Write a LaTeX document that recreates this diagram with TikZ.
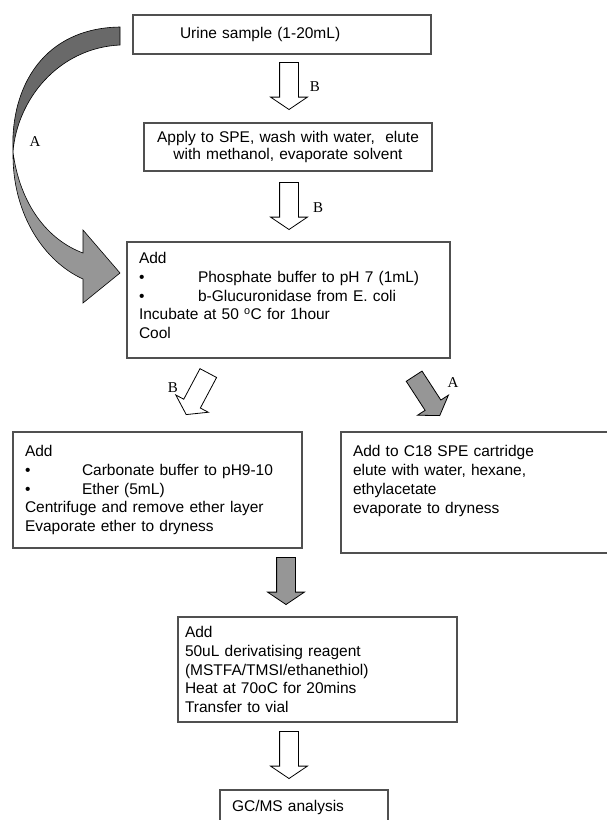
\documentclass[tikz,border=0pt]{standalone}
\usepackage{fontspec}
\setmainfont{Liberation Sans}
\newfontfamily\labelfont{Liberation Serif}
\usetikzlibrary{shapes.arrows}
\definecolor{boxline}{RGB}{80,80,80}
\definecolor{arrowgray}{RGB}{150,150,150}
\definecolor{arrowdark}{RGB}{105,105,105}
\newcommand{\bitem}[2]{\makebox[#1][l]{\textbullet}#2}
\tikzset{
  stepbox/.style={
    rectangle, draw=boxline, line width=1.2pt, fill=white,
    align=left, inner ysep=2pt, font=\fontsize{15.5}{18.8}\selectfont
  },
  hollowarrow/.style={
    single arrow, draw=black, line width=0.8pt, fill=white,
    inner sep=0pt, minimum height=47pt, anchor=tip,
    single arrow head extend=9pt, single arrow tip angle=112
  },
  grayarrow/.style={hollowarrow, fill=arrowgray},
  lbl/.style={font=\labelfont\fontsize{15}{15}\selectfont, inner sep=0pt}
}

\begin{document}
\begin{tikzpicture}[x=1pt, y=-1pt]
\path[use as bounding box] (0,0) rectangle (607,820);
\clip (0,0) rectangle (607,820);

% boxes
\node[stepbox, text width=204pt, inner xsep=47pt, minimum height=39pt] (urine) at (282,34.5) {Urine sample (1-20mL)};
\node[stepbox, text width=278pt, inner xsep=5pt, minimum height=48pt, align=center, font=\fontsize{15.5}{17}\selectfont] (spe) at (288,147)
  {Apply to SPE, wash with water,\ \ elute\\ with methanol, evaporate solvent};
\node[stepbox, text width=299pt, inner xsep=12pt, minimum height=116pt] (hydrol) at (288.5,300)
  {Add\\ \bitem{59pt}{Phosphate buffer to pH 7 (1mL)}\\ \bitem{59pt}{b-Glucuronidase from E. coli}\\
   Incubate at 50 \textsuperscript{o}C for 1hour\\ Cool\rule[-9pt]{0pt}{0pt}};
\node[stepbox, text width=265pt, inner xsep=12pt, minimum height=116pt] (ether) at (157.5,490)
  {Add\\ \bitem{57pt}{Carbonate buffer to pH9-10}\\ \bitem{57pt}{Ether (5mL)}\\
   Centrifuge and remove ether layer\\ Evaporate ether to dryness};
\node[stepbox, text width=255pt, inner xsep=12pt, minimum height=121pt] (cspe) at (480.5,492.5)
  {Add to C18 SPE cartridge\\ elute with water, hexane,\\ ethylacetate\\ evaporate to dryness\rule[-26pt]{0pt}{0pt}};
\node[stepbox, text width=265pt, inner xsep=7pt, minimum height=105pt] (deriv) at (317.5,669.5)
  {Add\\ \makebox[191pt][s]{50uL derivatising reagent}\\ (MSTFA/TMSI/ethanethiol)\\
   Heat at 70oC for 20mins\\ Transfer to vial};
\node[stepbox, text width=144pt, inner xsep=12pt, minimum height=34pt] (gcms) at (304,807) {GC/MS analysis};

% block arrows
\node[hollowarrow, rotate=270] (arrB1) at (289,110) {\rule{0pt}{18pt}};
\node[hollowarrow, rotate=270] (arrB2) at (289,230) {\rule{0pt}{18pt}};
\node[hollowarrow, rotate=242] (arrB3) at (186,415) {\rule{0pt}{18pt}};
\node[grayarrow, rotate=303] (arrA2) at (440,416) {\rule{0pt}{18pt}};
\node[grayarrow, rotate=270] (arrmerge) at (286,605) {\rule{0pt}{18pt}};
\node[hollowarrow, rotate=270] (arrB4) at (289,779) {\rule{0pt}{18pt}};

% curved arrow A
\filldraw[fill=arrowdark, draw=black, line width=0.6pt]
  (120,27) .. controls (45,28) and (10,85) .. (13,152)
  .. controls (17,100) and (58,48) .. (120,45) -- cycle;
\filldraw[fill=arrowgray, draw=black, line width=0.6pt]
  (13,152) .. controls (12,215) and (45,262) .. (83,279) -- (83,303)
  -- (120,273) -- (83,230) -- (83,253)
  .. controls (48,240) and (20,205) .. (13,152) -- cycle;

% labels
\node[lbl] (lblA1) at (35,142) {A};
\node[lbl] (lblB1) at (315,87) {B};
\node[lbl] (lblB2) at (318,208) {B};
\node[lbl] (lblB3) at (173,388) {B};
\node[lbl] (lblA2) at (453,383) {A};
\end{tikzpicture}
\end{document}
